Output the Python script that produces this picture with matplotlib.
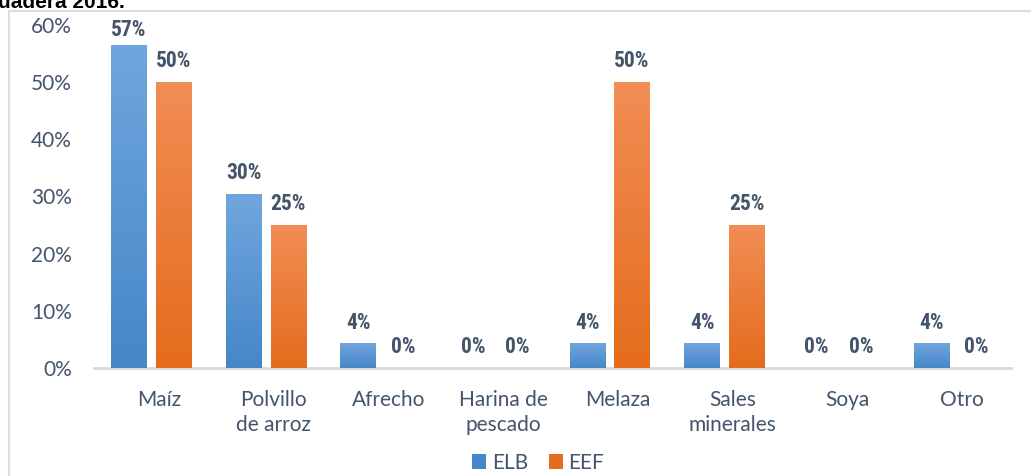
import matplotlib
matplotlib.use("Agg")
import matplotlib.pyplot as plt
import matplotlib.transforms as mtransforms
from matplotlib.lines import Line2D
from matplotlib.patches import Patch
import numpy as np
from matplotlib.colors import LinearSegmentedColormap
import logging
logging.getLogger("matplotlib.font_manager").setLevel(logging.ERROR)

categories = ["Maíz", "Polvillo\nde arroz", "Afrecho", "Harina de\npescado", "Melaza",
              "Sales\nminerales", "Soya", "Otro"]
elb = [56.5, 30.4, 4.3, 0, 4.3, 4.3, 0, 4.3]
eef = [50, 25, 0, 0, 50, 25, 0, 0]
series_names = ["ELB", "EEF"]
yticks = [0, 10, 20, 30, 40, 50, 60]

W, H = 1031, 476
fig = plt.figure(figsize=(W / 100, H / 100), dpi=100)
ax = fig.add_axes([94 / W, 1 - 368 / H, (1011 - 94) / W, (368 - 25) / H])

label_col = "#44546A"
tick_col = "#44546A"
elb_top, elb_bot = "#70A6DD", "#4587C8"
eef_top, eef_bot = "#F28D55", "#E46C1C"

x = np.arange(len(categories))
width = 0.31
off = 0.195

def grad_bars(xs, vals, top, bot):
    bars = ax.bar(xs, vals, width, color=bot, zorder=2)
    cmap = LinearSegmentedColormap.from_list("g", [bot, top])
    grad = np.linspace(0, 1, 256).reshape(-1, 1)
    for b in bars:
        h = b.get_height()
        if h <= 0:
            continue
        x0 = b.get_x()
        ax.imshow(grad, cmap=cmap, origin="lower", aspect="auto",
                  extent=(x0, x0 + b.get_width(), 0, h), zorder=3)
    return bars

b1 = grad_bars(x - off, elb, elb_top, elb_bot)
b2 = grad_bars(x + off, eef, eef_top, eef_bot)

lab_font = dict(family=["Roboto Condensed", "Liberation Sans Narrow", "Liberation Sans"],
                fontsize=15.5, fontweight="bold", color=label_col)
anns = []
for bars in (b1, b2):
    for b in bars:
        h = b.get_height()
        anns.append(ax.annotate(f"{int(h + 0.5)}%", (b.get_x() + b.get_width() / 2, h),
                                xytext=(0, 7), textcoords="offset points",
                                ha="center", va="bottom", **lab_font))

ax.set_xlim(-0.5, len(categories) - 0.5)
ax.set_ylim(0, 60)
ax.set_yticks(yticks)
ax.set_yticklabels([f"{v}%" for v in yticks])
ax.set_xticks(x)
ax.set_xticklabels(categories, linespacing=1.3)
for s in ("top", "right", "left"):
    ax.spines[s].set_visible(False)
ax.spines["bottom"].set_color("#D9D9D9")
ax.spines["bottom"].set_linewidth(2)
ax.tick_params(axis="both", length=0, labelsize=15, labelcolor=tick_col)
ax.tick_params(axis="y", pad=16)
ax.tick_params(axis="x", pad=16)
for t in ax.get_xticklabels() + ax.get_yticklabels():
    t.set_family(["Lato", "DejaVu Sans"])
for t in ax.get_xticklabels():
    t.set_verticalalignment("top")
    t.set_transform(t.get_transform() + mtransforms.ScaledTranslation(8 / 100, 0, fig.dpi_scale_trans))

handles = [Patch(facecolor=elb_bot, label=series_names[0]),
           Patch(facecolor=eef_bot, label=series_names[1])]
leg = fig.legend(handles=handles, loc="center", bbox_to_anchor=(538 / W, 1 - 463 / H),
                 ncol=2, frameon=False, handlelength=0.7, handleheight=0.7,
                 handletextpad=0.25, columnspacing=1.0,
                 prop={"family": ["Lato", "DejaVu Sans"], "size": 15})
for t in leg.get_texts():
    t.set_color(tick_col)

# chart frame
fig.add_artist(Line2D([9 / W, 9 / W], [0, 1 - 11 / H], transform=fig.transFigure,
                      color="#D9DEE6", lw=1.5))
fig.add_artist(Line2D([9 / W, 1], [1 - 11 / H, 1 - 11 / H], transform=fig.transFigure,
                      color="#D9DEE6", lw=1.5))

# caption line from the document above the chart (cut off at the top in the source)
fig.text(-2 / W, 1 - 8 / H, "uadera 2016.", ha="left", va="baseline",
         fontsize=15, fontweight="bold", color="black",
         family=["Liberation Sans", "DejaVu Sans"])

# keep data labels inside the chart area (as the spreadsheet does)
fig.canvas.draw()
limit = H - 19
for a in anns:
    bb = a.get_window_extent()
    if bb.y1 > limit:
        dx, dy = a.xyann
        a.xyann = (dx, dy - (bb.y1 - limit) * 72 / fig.dpi)

fig.savefig("out.png", dpi=100)
